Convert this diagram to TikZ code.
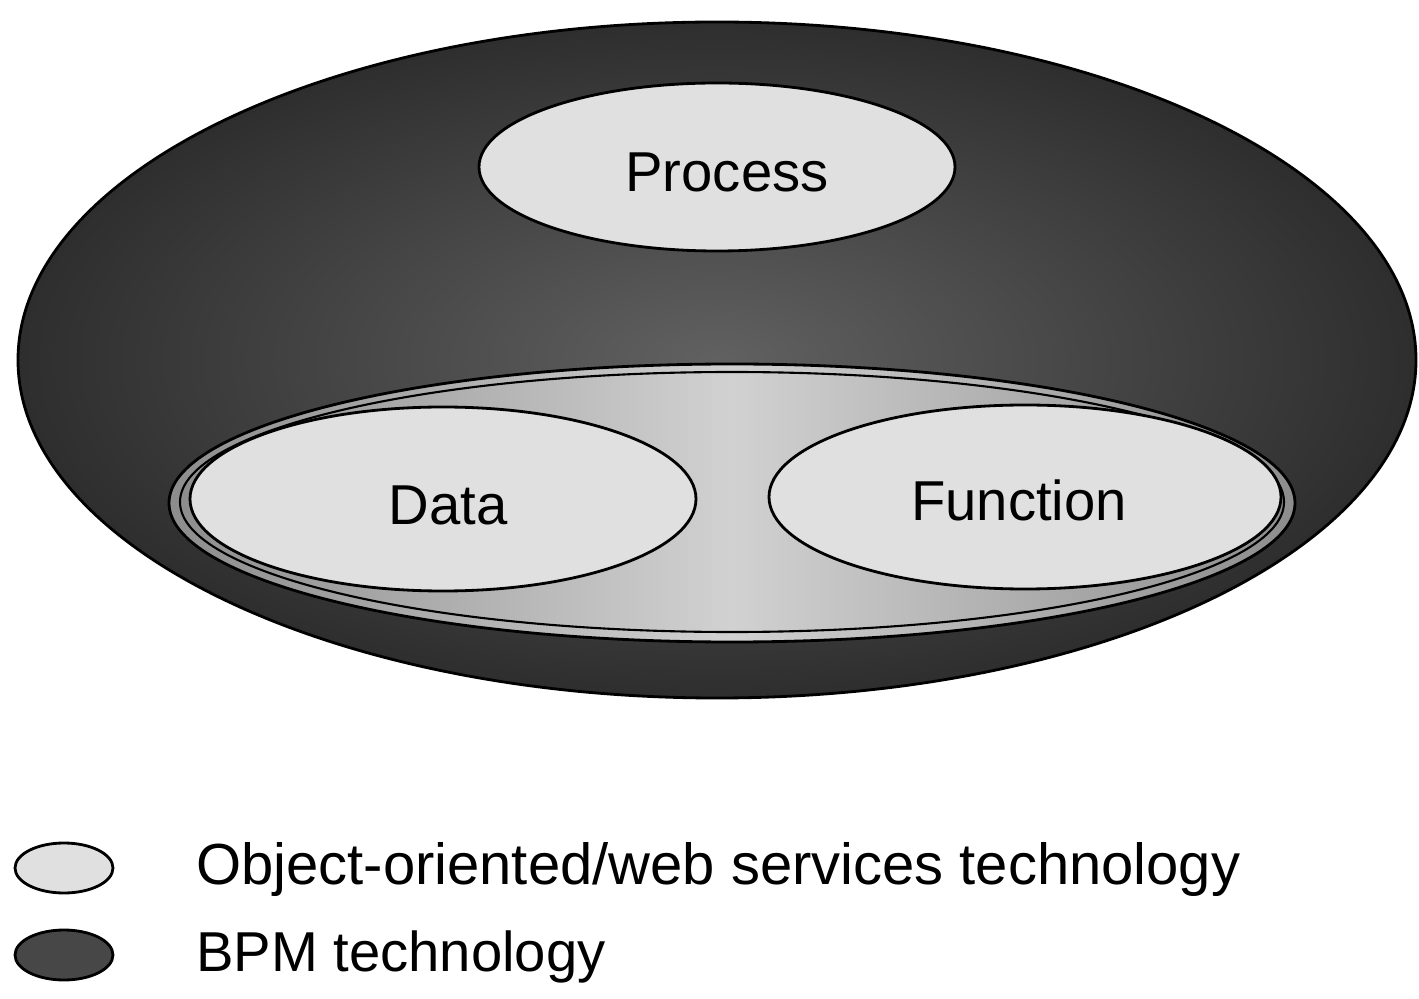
\documentclass[tikz,border=0pt]{standalone}
\usepackage{fontspec}
\setmainfont{Liberation Sans}
\usetikzlibrary{shapes.geometric}
\tikzset{
  lbl/.style={font=\fontsize{32}{38}\selectfont},
  oval/.style={ellipse, draw=black, line width=1.6pt, inner sep=0pt},
  light/.style={oval, fill=black!12},
  dark/.style={oval, fill=black!72},
}
\begin{document}
\begin{tikzpicture}[x=0.02cm,y=-0.02cm]
\useasboundingbox (0,0) rectangle (1419,999);
% outer BPM ellipse
\node[oval, minimum width=1398*0.02cm, minimum height=676*0.02cm,
      inner color=black!62, outer color=black!82] (bpm) at (717,360) {};
% middle object-oriented ellipse with double rim
\node[oval, minimum width=1126*0.02cm, minimum height=278*0.02cm,
      left color=black!45, right color=black!45, middle color=black!18] (oo) at (732,503) {};
\node[ellipse, draw=black, line width=1.2pt, minimum width=1104*0.02cm, minimum height=260*0.02cm] (oorim) at (732,502) {};
% inner ellipses
\node[light, minimum width=476*0.02cm, minimum height=168*0.02cm] (process) at (717,167) {};
\node[lbl] (processlbl) at (727,172) {Process};
\node[light, minimum width=506*0.02cm, minimum height=184*0.02cm] (data) at (443,499) {};
\node[lbl] (datalbl) at (448,505) {Data};
\node[light, minimum width=512*0.02cm, minimum height=184*0.02cm] (function) at (1025,497) {};
\node[lbl] (functionlbl) at (1019,500) {Function};
% legend
\node[light, minimum width=98*0.02cm, minimum height=50*0.02cm] (leg1) at (64,868) {};
\node[lbl, font=\fontsize{33}{38}\selectfont, anchor=west] (leg1t) at (190,870) {Object-oriented/web services technology};
\node[dark, minimum width=98*0.02cm, minimum height=50*0.02cm] (leg2) at (64,955) {};
\node[lbl, anchor=west] (leg2t) at (190,957) {BPM technology};
\end{tikzpicture}
\end{document}
